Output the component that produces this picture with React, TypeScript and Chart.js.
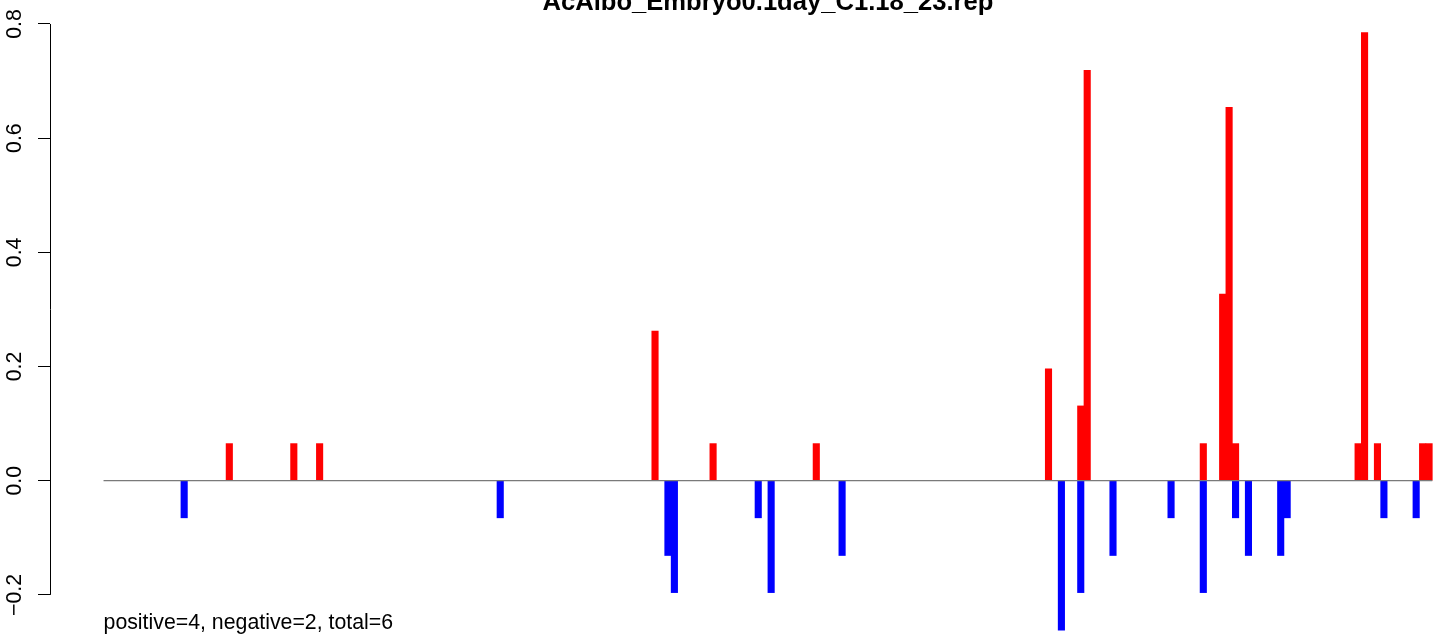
import React, { useEffect, useRef } from "react";
import { Chart, registerables } from "chart.js";

Chart.register(...registerables);

const chartTitle = "AcAlbo_Embryo0.1day_C1.18_23.rep";
const footnote = "positive=4, negative=2, total=6";
const barCount = 206;

// positive (red) bars: index along the sequence and value
const posIdx = [19, 29, 33, 85, 94, 110, 146, 151, 152, 170, 173, 174, 175, 194, 195, 197, 204, 205];
const posVal = [0.065, 0.065, 0.065, 0.262, 0.065, 0.065, 0.196, 0.131, 0.719, 0.065, 0.327, 0.654, 0.065, 0.065, 0.785, 0.065, 0.065, 0.065];

// negative (blue) bars
const negIdx = [12, 61, 87, 88, 101, 103, 114, 148, 151, 156, 165, 170, 175, 177, 182, 183, 198, 203];
const negVal = [-0.065, -0.065, -0.131, -0.196, -0.065, -0.196, -0.131, -0.262, -0.196, -0.131, -0.065, -0.196, -0.065, -0.131, -0.131, -0.065, -0.065, -0.065];

const yTicks = [-0.2, 0, 0.2, 0.4, 0.6, 0.8];

const FONT = "'Liberation Sans', Arial, Helvetica, sans-serif";

function fmt(v: number): string {
  return Number(v).toFixed(1).replace("-", "\u2212");
}

export default function App() {
  const ref = useRef<HTMLCanvasElement>(null);

  useEffect(() => {
    document.body.style.margin = "0";
    const canvas = ref.current;
    if (!canvas) return;

    const overlay = {
      id: "overlay",
      afterDatasetsDraw(chart: any) {
        const { ctx } = chart;
        const x = chart.scales.x;
        const y = chart.scales.y;
        ctx.save();
        // zero line
        ctx.strokeStyle = "#7a7a7a";
        ctx.lineWidth = 1.2;
        ctx.beginPath();
        ctx.moveTo(x.getPixelForValue(0), y.getPixelForValue(0));
        ctx.lineTo(x.getPixelForValue(barCount), y.getPixelForValue(0));
        ctx.stroke();
        // y axis line between extreme ticks
        ctx.strokeStyle = "#000";
        ctx.lineWidth = 1;
        const ax = Math.round(chart.chartArea.left) + 0.5;
        ctx.beginPath();
        ctx.moveTo(ax, y.getPixelForValue(yTicks[0]));
        ctx.lineTo(ax, y.getPixelForValue(yTicks[yTicks.length - 1]));
        ctx.stroke();
        // title
        ctx.fillStyle = "#000";
        ctx.font = `bold 25.6px ${FONT}`;
        ctx.textAlign = "center";
        ctx.textBaseline = "alphabetic";
        ctx.fillText(chartTitle, x.getPixelForValue(barCount / 2), 10);
        // footnote
        ctx.font = `21.3px ${FONT}`;
        ctx.textAlign = "left";
        ctx.fillText(footnote, x.getPixelForValue(0), 629);
        ctx.restore();
      },
    };

    const chart = new Chart(canvas, {
      type: "bar",
      data: {
        datasets: [
          {
            label: "positive",
            data: posIdx.map((i, k) => ({ x: i + 0.5, y: posVal[k] })),
            backgroundColor: "#ff0000",
            borderWidth: 0,
            grouped: false,
            categoryPercentage: 1,
            barPercentage: 1,
          },
          {
            label: "negative",
            data: negIdx.map((i, k) => ({ x: i + 0.5, y: negVal[k] })),
            backgroundColor: "#0000ff",
            borderWidth: 0,
            grouped: false,
            categoryPercentage: 1,
            barPercentage: 1,
          },
        ] as any,
      },
      options: {
        animation: false,
        responsive: false,
        devicePixelRatio: 1,
        layout: { padding: 0 },
        plugins: {
          legend: { display: false },
          title: { display: false },
          tooltip: { enabled: false },
        },
        scales: {
          x: {
            type: "linear",
            min: -8.3,
            max: 207.35,
            offset: false,
            display: false,
            ticks: { stepSize: 50 },
          },
          y: {
            type: "linear",
            min: -0.272,
            max: 0.842,
            afterFit(s: any) {
              s.width = 50;
              s.paddingTop = 0;
              s.paddingBottom = 0;
              s.paddingLeft = 0;
              s.paddingRight = 0;
            },
            afterBuildTicks(s: any) {
              s.ticks = yTicks.map((v) => ({ value: v }));
            },
            border: { display: false },
            grid: {
              drawOnChartArea: false,
              drawTicks: true,
              tickLength: 12,
              color: "#000",
              lineWidth: 1,
            },
            ticks: {
              minRotation: 90,
              maxRotation: 90,
              crossAlign: "center",
              padding: 2,
              color: "#000",
              font: { family: FONT, size: 21.3 },
              callback: (v: any) => fmt(Number(v)),
            },
          },
        },
      } as any,
      plugins: [overlay],
    });

    return () => chart.destroy();
  }, []);

  return (
    <div style={{ width: 1441, height: 636, position: "relative", overflow: "hidden", background: "#fff" }}>
      <canvas ref={ref} width={1441} height={636} style={{ display: "block", width: 1441, height: 636 }} />
    </div>
  );
}
